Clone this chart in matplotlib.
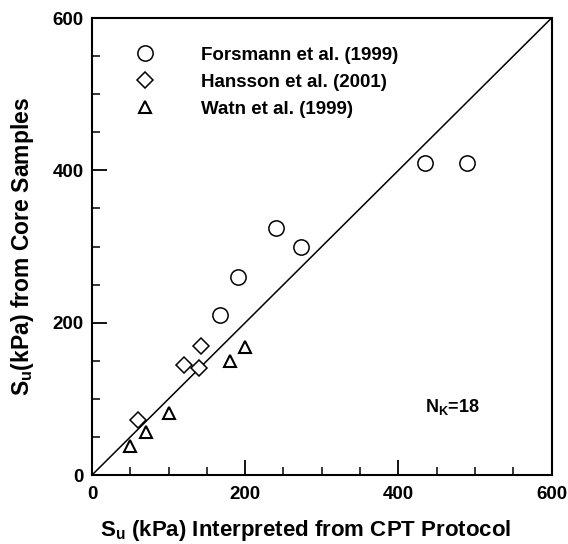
import matplotlib
matplotlib.use("Agg")
import matplotlib.pyplot as plt

plt.rcParams['font.family'] = ['Liberation Sans', 'DejaVu Sans']
plt.rcParams['font.weight'] = 'bold'
plt.rcParams['mathtext.fontset'] = 'custom'
plt.rcParams['mathtext.rm'] = 'Liberation Sans:bold'
plt.rcParams['mathtext.bf'] = 'Liberation Sans:bold'
plt.rcParams['mathtext.it'] = 'Liberation Sans:bold'

# Data
forsmann_x = [167, 190, 240, 273, 435, 490]
forsmann_y = [210, 260, 325, 300, 410, 410]
hansson_x = [60, 120, 140, 142]
hansson_y = [72, 145, 140, 170]
watn_x = [50, 70, 100, 180, 200]
watn_y = [38, 57, 82, 150, 168]
series_labels = ["Forsmann et al. (1999)", "Hansson et al. (2001)", "Watn et al. (1999)"]
ticks = [0, 200, 400, 600]

fig = plt.figure(figsize=(5.68, 5.44), dpi=100)
ax = fig.add_axes([0.162, 0.1268, 0.809, 0.840])

ax.plot([0, 600], [0, 600], color='black', lw=1.1, zorder=1)
ax.plot(forsmann_x, forsmann_y, linestyle='none', marker='o', ms=11, mfc='white',
        mec='black', mew=1.1, label=series_labels[0], zorder=3)
ax.plot(hansson_x, hansson_y, linestyle='none', marker='D', ms=8.5, mfc='white',
        mec='black', mew=1.1, label=series_labels[1], zorder=3)
ax.plot(watn_x, watn_y, linestyle='none', marker='^', ms=9, mfc='white',
        mec='black', mew=1.5, label=series_labels[2], zorder=3)

ax.set_xlim(0, 600)
ax.set_ylim(0, 600)
ax.set_xticks(ticks)
ax.set_yticks(ticks)
ax.set_xticks(range(0, 601, 50), minor=True)
ax.set_yticks(range(0, 601, 50), minor=True)
ax.tick_params(which='major', direction='in', length=11, width=1.3, labelsize=13.5,
               top=False, right=False)
ax.tick_params(which='minor', direction='in', length=5.5, width=1.1, top=False, right=False)
ax.tick_params(axis='x', which='major', pad=8)
ax.tick_params(axis='y', which='major', pad=6)
for lbl in ax.get_xticklabels() + ax.get_yticklabels():
    lbl.set_fontweight('bold')
for s in ax.spines.values():
    s.set_linewidth(1.5)

ax.set_xlabel(r"S$_{\mathbf{u}}$ (kPa) Interpreted from CPT Protocol", fontsize=16,
              fontweight='bold', labelpad=11)
ax.xaxis.label.set_x(0.4655)
ax.set_ylabel(r"S$_{\mathbf{u}}$(kPa) from Core Samples", fontsize=16.5,
              fontweight='bold', labelpad=12)

ax.text(435, 83, r"N$_{\mathbf{K}}$=18", fontsize=13, fontweight='bold',
        ha='left', va='baseline')

leg = ax.legend(loc='upper left', bbox_to_anchor=(0.095, 0.938), frameon=False,
                fontsize=13.5, handlelength=1.0, handletextpad=2.5, labelspacing=0.53,
                borderpad=0, borderaxespad=0)
for t in leg.get_texts():
    t.set_fontweight('bold')

fig.savefig("out.png", dpi=100)
